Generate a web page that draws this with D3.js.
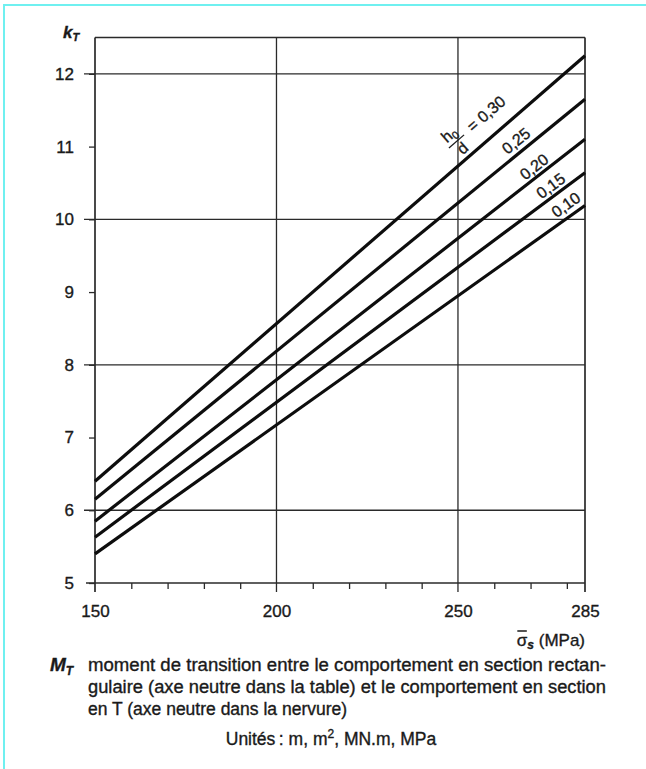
<!DOCTYPE html>
<html><head><meta charset="utf-8">
<script src="https://cdn.jsdelivr.net/npm/d3@7"></script>
<style>
body{margin:0;background:#fff}
svg{display:block}
text{font-family:"Liberation Sans",Arial,Helvetica,sans-serif;fill:#1a1a1a;stroke:#1a1a1a;stroke-width:0.35px}
</style>
</head><body>
<svg id="c" width="646" height="769"></svg>
<script>
// ---- data ----
const ratioLabels = ["0,30", "0,25", "0,20", "0,15", "0,10"];
const sigmaRange = [150, 285];
const kStart = [6.40, 6.15, 5.85, 5.63, 5.40];   // k_T at sigma = 150
const kEnd = [12.25, 11.65, 11.10, 10.64, 10.19]; // k_T at sigma = 285
const xMajorTicks = [150, 200, 250, 285];
const xMinorTicks = [160, 170, 180, 190, 210, 220, 230, 240, 260, 270, 280];
const yTicks = [5, 6, 7, 8, 9, 10, 11, 12];
const yGridValues = [6, 8, 10, 12];
const yDomain = [5, 12.5];
const captionLines = [
  "moment de transition entre le comportement en section rectan-",
  "gulaire (axe neutre dans la table) et le comportement en section",
  "en T (axe neutre dans la nervure)"
];

// ---- layout ----
const svg = d3.select("#c");
const L = 95, R = 585, T = 37.5, B = 583;
const x = d3.scaleLinear().domain(sigmaRange).range([L, R]);
const y = d3.scaleLinear().domain(yDomain).range([B, T]);

// cyan page border
svg.append("line").attr("x1", 3).attr("x2", 646).attr("y1", 5).attr("y2", 5)
  .attr("stroke", "#6ff0f0").attr("stroke-width", 2);
svg.append("line").attr("x1", 4).attr("x2", 4).attr("y1", 4).attr("y2", 769)
  .attr("stroke", "#6ff0f0").attr("stroke-width", 2);

const gridCol = "#2a2a2a";
// horizontal grid lines (extend slightly left of frame)
svg.append("g").selectAll("line").data(yGridValues).join("line")
  .attr("x1", L - 11).attr("x2", R).attr("y1", d => y(d)).attr("y2", d => y(d))
  .attr("stroke", gridCol).attr("stroke-width", 1.3);
// bottom line (k=5)
svg.append("line").attr("x1", L - 9).attr("x2", R).attr("y1", y(5)).attr("y2", y(5))
  .attr("stroke", gridCol).attr("stroke-width", 1.7);
// top frame
svg.append("line").attr("x1", L).attr("x2", R).attr("y1", T).attr("y2", T)
  .attr("stroke", gridCol).attr("stroke-width", 1.7);
// vertical major lines: frame + grid, extending below as ticks
svg.append("g").selectAll("line").data(xMajorTicks).join("line")
  .attr("x1", d => x(d)).attr("x2", d => x(d)).attr("y1", T).attr("y2", B + 9)
  .attr("stroke", gridCol).attr("stroke-width", (d, i) => (i === 0 || i === xMajorTicks.length - 1) ? 1.7 : 1.3);

// x axis: minor ticks + major labels
const xMinor = svg.append("g").attr("transform", `translate(0,${B})`)
  .call(d3.axisBottom(x).tickValues(xMinorTicks).tickSize(6).tickFormat(""));
xMinor.select(".domain").remove();
xMinor.selectAll(".tick line").attr("stroke", gridCol).attr("stroke-width", 1.3);

const xMajor = svg.append("g").attr("transform", `translate(0,${B})`)
  .call(d3.axisBottom(x).tickValues(xMajorTicks).tickSize(0).tickPadding(34).tickFormat(d3.format("d")));
xMajor.select(".domain").remove();
xMajor.selectAll(".tick line").remove();
xMajor.selectAll(".tick text").attr("font-size", 17).attr("dy", 0).attr("fill", "#1a1a1a")
  .style("font-family", '"Liberation Sans",Arial,sans-serif');

// y axis ticks + labels
const yAx = svg.append("g").attr("transform", `translate(${L},0)`)
  .call(d3.axisLeft(y).tickValues(yTicks).tickSize(6).tickPadding(15).tickFormat(d3.format("d")));
yAx.select(".domain").remove();
yAx.selectAll(".tick line").attr("stroke", gridCol).attr("stroke-width", 1.3);
yAx.selectAll(".tick text").attr("font-size", 17).attr("fill", "#1a1a1a")
  .style("font-family", '"Liberation Sans",Arial,sans-serif');

// k_T axis title
const kt = svg.append("text").attr("x", 63).attr("y", 38).attr("font-style", "italic").attr("font-weight", "bold");
kt.append("tspan").attr("font-size", 17).text("k");
kt.append("tspan").attr("font-size", 11).attr("dy", 3).text("T");

// sigma axis title
const st = svg.append("text").attr("x", R).attr("y", 646).attr("text-anchor", "end").attr("font-size", 17);
st.append("tspan").text("σ");
st.append("tspan").attr("font-size", 12).attr("font-style", "italic").attr("font-weight", "bold").attr("dy", 3).text("s");
st.append("tspan").attr("dy", -3).text(" (MPa)");
{
  const ext = st.node().getExtentOfChar(0);
  svg.append("line").attr("x1", ext.x + 0.5).attr("x2", ext.x + ext.width - 0.5)
    .attr("y1", 631).attr("y2", 631).attr("stroke", "#1a1a1a").attr("stroke-width", 1.5);
}

// ---- series lines ----
const series = ratioLabels.map((r, i) => ({
  label: r,
  pts: [[sigmaRange[0], kStart[i]], [sigmaRange[1], kEnd[i]]]
}));
const lineGen = d3.line().x(d => x(d[0])).y(d => y(d[1]));
svg.append("g").selectAll("path").data(series).join("path")
  .attr("d", d => lineGen(d.pts)).attr("fill", "none")
  .attr("stroke", "#0d0d0d").attr("stroke-width", 3.2);

// ---- line labels (rotated along lines) ----
const labelAt = [250, 268, 272.6, 277.2, 281.6];
const labelOff = [0, 11.4, 9.6, 9.9, 11.6];
series.forEach((s, i) => {
  const xv = labelAt[i];
  const kv = kStart[i] + (kEnd[i] - kStart[i]) * (xv - sigmaRange[0]) / (sigmaRange[1] - sigmaRange[0]);
  const ang = Math.atan2(y(kEnd[i]) - y(kStart[i]), x(sigmaRange[1]) - x(sigmaRange[0])) * 180 / Math.PI;
  const g = svg.append("g").attr("transform", `translate(${x(xv)},${y(kv)}) rotate(${ang})`);
  if (i === 0) {
    const h = g.append("text").attr("x", 14).attr("y", -24).attr("text-anchor", "middle").attr("font-size", 16);
    h.append("tspan").text("h");
    h.append("tspan").attr("font-size", 11).attr("dy", 3).text("0");
    g.append("line").attr("x1", 5).attr("x2", 25).attr("y1", -19.5).attr("y2", -19.5)
      .attr("stroke", "#1a1a1a").attr("stroke-width", 1.3);
    g.append("text").attr("x", 15).attr("y", -5).attr("text-anchor", "middle").attr("font-size", 16).text("d");
    g.append("text").attr("x", 33).attr("y", -15.5).attr("font-size", 16).text("= " + s.label);
  } else {
    g.append("text").attr("x", 0).attr("y", -labelOff[i] + 5.5).attr("text-anchor", "middle")
      .attr("font-size", 16).text(s.label);
  }
});

// ---- caption ----
const mt = svg.append("text").attr("x", 50).attr("y", 671).attr("font-style", "italic").attr("font-weight", "bold");
mt.append("tspan").attr("font-size", 19).text("M");
mt.append("tspan").attr("font-size", 12).attr("dy", 4).text("T");
const capY = [671, 693, 715];
captionLines.forEach((t, i) => {
  const el = svg.append("text").attr("x", 88).attr("y", capY[i]).attr("font-size", 17.5).text(t);
  if (i < 2) el.attr("textLength", 518).attr("lengthAdjust", "spacingAndGlyphs");
});
const un = svg.append("text").attr("x", 331).attr("y", 745).attr("text-anchor", "middle").attr("font-size", 17.5);
un.append("tspan").text("Unités\u2009: m, m");
un.append("tspan").attr("font-size", 12).attr("dy", -7).text("2");
un.append("tspan").attr("dy", 7).text(", MN.m, MPa");
</script>
</body></html>
